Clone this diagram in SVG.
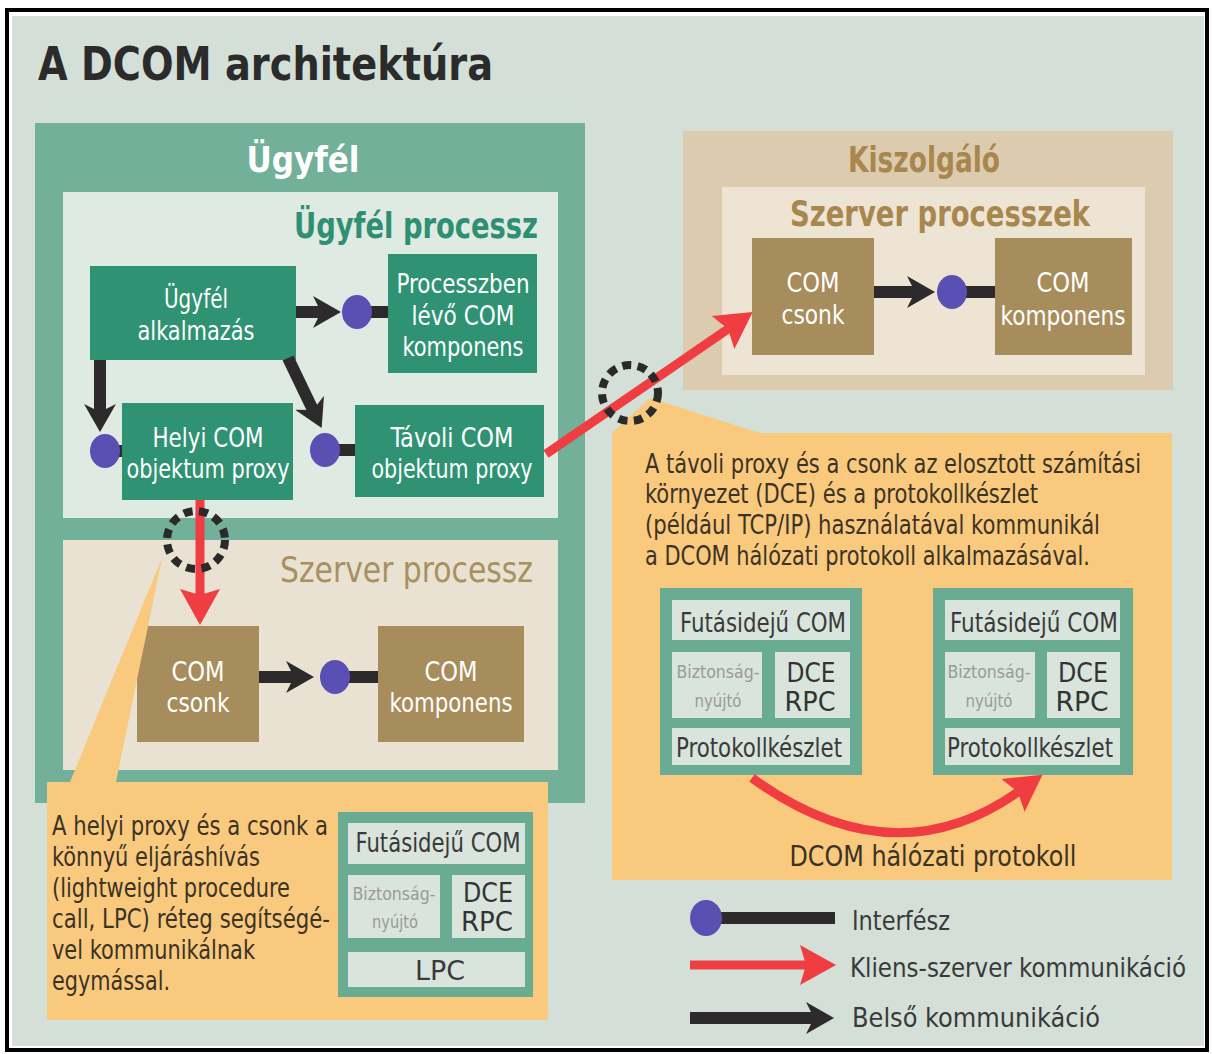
<svg xmlns="http://www.w3.org/2000/svg" width="1212" height="1054" viewBox="0 0 1212 1054">
<defs>
<style>
text{font-family:"Liberation Sans Narrow","DejaVu Sans Condensed","Liberation Sans",Arial,sans-serif}
.title{font-size:46px;font-weight:bold;fill:#2b2b2b}
.hdw{font-size:36px;font-weight:bold;fill:#ffffff;text-anchor:middle}
.hdt{font-size:36px;font-weight:bold;fill:#2e8f72}
.hdk{font-size:36px;font-weight:bold;fill:#a8874f;text-anchor:middle}
.hds{font-size:36px;fill:#a8905f}
.nt{font-size:27px;fill:#ffffff;text-anchor:middle}
.ct{font-size:26px;fill:#3b3324}
.st{font-size:26px;fill:#3a3a3a;text-anchor:middle}
.sb{font-size:18px;fill:#9a9a9a;text-anchor:middle}
.sd{font-size:26px;fill:#333333;text-anchor:middle}
.lg{font-size:27px;fill:#3a3a3a}
.tealnode{fill:#2f9373}
.tannode{fill:#a88d5c}
.stack{fill:#6aab93}
.cell{fill:#d8e4dc}
.orange{fill:#f9c97e}
.dk{stroke:#2d2a2b;stroke-width:12;fill:none}
.rd{stroke:#ef3d42;stroke-width:9;fill:none}
.itf{fill:#5a4fb3}
.dash{fill:none;stroke:#2a2a2a;stroke-width:8;stroke-dasharray:9 6.5}
</style>
<marker id="ahd" markerUnits="userSpaceOnUse" viewBox="0 0 28 32" refX="8" refY="16" markerWidth="28" markerHeight="32" orient="auto">
<path d="M0,0 L28,16 L0,32 L8,16 Z" fill="#2d2a2b"/>
</marker>
<marker id="ahr" markerUnits="userSpaceOnUse" viewBox="0 0 36 40" refX="6" refY="20" markerWidth="36" markerHeight="40" orient="auto">
<path d="M0,0 L36,20 L0,40 L6,20 Z" fill="#ef3d42"/>
</marker>
</defs>

<rect x="0" y="0" width="1212" height="1054" fill="#ffffff"/>
<rect x="12" y="16" width="1192" height="1030" fill="#d4e0d7"/>
<rect x="7" y="10" width="1200" height="1040" fill="none" stroke="#000" stroke-width="4"/>

<text class="title" x="38" y="80" textLength="455" lengthAdjust="spacingAndGlyphs">A DCOM architektúra</text>

<g id="client">
<rect x="35" y="123" width="550" height="680" fill="#73b09a"/>
<text class="hdw" x="303" y="172" textLength="113" lengthAdjust="spacingAndGlyphs">Ügyfél</text>
</g>

<g id="client-process">
<rect x="63" y="192" width="495" height="326" fill="#dfeae2"/>
<text class="hdt" x="294" y="238" textLength="244" lengthAdjust="spacingAndGlyphs">Ügyfél processz</text>
</g>

<g id="local-server-process">
<rect x="63" y="540" width="495" height="230" fill="#e9e2d3"/>
<text class="hds" x="280" y="582" textLength="253" lengthAdjust="spacingAndGlyphs">Szerver processz</text>
</g>

<g id="client-app">
<rect class="tealnode" x="90" y="266" width="206" height="94"/>
<text class="nt" x="196" y="308" textLength="64" lengthAdjust="spacingAndGlyphs">Ügyfél</text>
<text class="nt" x="196" y="340" textLength="117" lengthAdjust="spacingAndGlyphs">alkalmazás</text>
</g>

<g id="inproc-component">
<rect class="tealnode" x="388" y="254" width="149" height="119"/>
<text class="nt" x="463" y="293" textLength="133" lengthAdjust="spacingAndGlyphs">Processzben</text>
<text class="nt" x="463" y="325" textLength="103" lengthAdjust="spacingAndGlyphs">lévő COM</text>
<text class="nt" x="463" y="356" textLength="121" lengthAdjust="spacingAndGlyphs">komponens</text>
</g>

<g id="local-proxy">
<rect class="tealnode" x="122" y="403" width="171" height="97"/>
<text class="nt" x="208" y="447" textLength="111" lengthAdjust="spacingAndGlyphs">Helyi COM</text>
<text class="nt" x="208" y="478" textLength="163" lengthAdjust="spacingAndGlyphs">objektum proxy</text>
</g>

<g id="remote-proxy">
<rect class="tealnode" x="355" y="405" width="189" height="92"/>
<text class="nt" x="452" y="447" textLength="123" lengthAdjust="spacingAndGlyphs">Távoli COM</text>
<text class="nt" x="452" y="478" textLength="161" lengthAdjust="spacingAndGlyphs">objektum proxy</text>
</g>

<g id="local-stub">
<rect class="tannode" x="137" y="626" width="122" height="116"/>
<text class="nt" x="198" y="681" textLength="53" lengthAdjust="spacingAndGlyphs">COM</text>
<text class="nt" x="198" y="712" textLength="63" lengthAdjust="spacingAndGlyphs">csonk</text>
</g>

<g id="local-component">
<rect class="tannode" x="378" y="626" width="146" height="116"/>
<text class="nt" x="451" y="681" textLength="53" lengthAdjust="spacingAndGlyphs">COM</text>
<text class="nt" x="451" y="712" textLength="123" lengthAdjust="spacingAndGlyphs">komponens</text>
</g>

<g id="server">
<rect x="683" y="131" width="490" height="259" fill="#dccbae"/>
<text class="hdk" x="924" y="172" textLength="152" lengthAdjust="spacingAndGlyphs">Kiszolgáló</text>
</g>

<g id="server-processes">
<rect x="722" y="187" width="423" height="188" fill="#ede4d3"/>
<text class="hdk" x="940" y="226" textLength="300" lengthAdjust="spacingAndGlyphs">Szerver processzek</text>
</g>

<g id="remote-stub">
<rect class="tannode" x="752" y="238" width="122" height="117"/>
<text class="nt" x="813" y="292" textLength="53" lengthAdjust="spacingAndGlyphs">COM</text>
<text class="nt" x="813" y="324" textLength="63" lengthAdjust="spacingAndGlyphs">csonk</text>
</g>

<g id="remote-component">
<rect class="tannode" x="995" y="238" width="137" height="117"/>
<text class="nt" x="1063" y="292" textLength="53" lengthAdjust="spacingAndGlyphs">COM</text>
<text class="nt" x="1063" y="325" textLength="125" lengthAdjust="spacingAndGlyphs">komponens</text>
</g>

<g id="local-note">
<polygon class="orange" points="162,558 70,782 116,782"/>
<rect class="orange" x="47" y="782" width="501" height="238"/>
<text class="ct" x="52" y="835" textLength="276" lengthAdjust="spacingAndGlyphs">A helyi proxy és a csonk a</text>
<text class="ct" x="52" y="866" textLength="208" lengthAdjust="spacingAndGlyphs">könnyű eljáráshívás</text>
<text class="ct" x="52" y="897" textLength="238" lengthAdjust="spacingAndGlyphs">(lightweight procedure</text>
<text class="ct" x="52" y="928" textLength="278" lengthAdjust="spacingAndGlyphs">call, LPC) réteg segítségé-</text>
<text class="ct" x="52" y="959" textLength="203" lengthAdjust="spacingAndGlyphs">vel kommunikálnak</text>
<text class="ct" x="52" y="990" textLength="118" lengthAdjust="spacingAndGlyphs">egymással.</text>
</g>

<g id="local-stack">
<rect class="stack" x="338" y="812" width="195" height="185"/>
<rect class="cell" x="348" y="823" width="177" height="41"/>
<text class="st" x="438" y="852" textLength="165" lengthAdjust="spacingAndGlyphs">Futásidejű COM</text>
<rect class="cell" x="348" y="875" width="92" height="63"/>
<text class="sb" x="394" y="900" textLength="83" lengthAdjust="spacingAndGlyphs">Biztonság-</text>
<text class="sb" x="395" y="928" textLength="46" lengthAdjust="spacingAndGlyphs">nyújtó</text>
<rect class="cell" x="452" y="875" width="73" height="63"/>
<text class="sd" x="488" y="902" textLength="50" lengthAdjust="spacingAndGlyphs">DCE</text>
<text class="sd" x="487" y="931" textLength="52" lengthAdjust="spacingAndGlyphs">RPC</text>
<rect class="cell" x="348" y="952" width="177" height="35"/>
<text class="st" x="440" y="980" textLength="50" lengthAdjust="spacingAndGlyphs">LPC</text>
</g>

<g id="remote-note">
<polygon class="orange" points="650,398 612,433 760,433"/>
<rect class="orange" x="612" y="433" width="560" height="447"/>
<text class="ct" x="645" y="473" textLength="496" lengthAdjust="spacingAndGlyphs">A távoli proxy és a csonk az elosztott számítási</text>
<text class="ct" x="645" y="503" textLength="393" lengthAdjust="spacingAndGlyphs">környezet (DCE) és a protokollkészlet</text>
<text class="ct" x="645" y="534" textLength="455" lengthAdjust="spacingAndGlyphs">(például TCP/IP) használatával kommunikál</text>
<text class="ct" x="645" y="565" textLength="445" lengthAdjust="spacingAndGlyphs">a DCOM hálózati protokoll alkalmazásával.</text>
<text class="ct" x="933" y="866" text-anchor="middle" style="font-size:28px" textLength="287" lengthAdjust="spacingAndGlyphs">DCOM hálózati protokoll</text>
</g>

<g id="client-stack">
<rect class="stack" x="660" y="588" width="202" height="187"/>
<rect class="cell" x="672" y="600" width="178" height="40"/>
<text class="st" x="763" y="632" textLength="166" lengthAdjust="spacingAndGlyphs">Futásidejű COM</text>
<rect class="cell" x="672" y="652" width="90" height="66"/>
<text class="sb" x="718" y="678" textLength="83" lengthAdjust="spacingAndGlyphs">Biztonság-</text>
<text class="sb" x="718" y="707" textLength="47" lengthAdjust="spacingAndGlyphs">nyújtó</text>
<rect class="cell" x="775" y="652" width="75" height="66"/>
<text class="sd" x="811" y="682" textLength="49" lengthAdjust="spacingAndGlyphs">DCE</text>
<text class="sd" x="810" y="711" textLength="51" lengthAdjust="spacingAndGlyphs">RPC</text>
<rect class="cell" x="672" y="728" width="178" height="37"/>
<text class="st" x="759" y="757" textLength="166" lengthAdjust="spacingAndGlyphs">Protokollkészlet</text>
</g>

<g id="server-stack">
<rect class="stack" x="933" y="588" width="200" height="187"/>
<rect class="cell" x="945" y="600" width="175" height="40"/>
<text class="st" x="1034" y="632" textLength="168" lengthAdjust="spacingAndGlyphs">Futásidejű COM</text>
<rect class="cell" x="945" y="652" width="90" height="66"/>
<text class="sb" x="989" y="678" textLength="83" lengthAdjust="spacingAndGlyphs">Biztonság-</text>
<text class="sb" x="989" y="707" textLength="47" lengthAdjust="spacingAndGlyphs">nyújtó</text>
<rect class="cell" x="1047" y="652" width="73" height="66"/>
<text class="sd" x="1083" y="682" textLength="50" lengthAdjust="spacingAndGlyphs">DCE</text>
<text class="sd" x="1082" y="711" textLength="53" lengthAdjust="spacingAndGlyphs">RPC</text>
<rect class="cell" x="945" y="728" width="175" height="37"/>
<text class="st" x="1030" y="757" textLength="166" lengthAdjust="spacingAndGlyphs">Protokollkészlet</text>
</g>

<g id="connectors">
<line class="dk" x1="357" y1="312" x2="388" y2="312"/>
<ellipse class="itf" cx="357" cy="312" rx="15" ry="17"/>
<line class="dk" x1="105" y1="451" x2="122" y2="451"/>
<ellipse class="itf" cx="105" cy="451" rx="15" ry="17"/>
<line class="dk" x1="325" y1="450" x2="355" y2="450"/>
<ellipse class="itf" cx="325" cy="450" rx="15" ry="17"/>
<line class="dk" x1="335" y1="677" x2="378" y2="677"/>
<ellipse class="itf" cx="335" cy="677" rx="15" ry="17"/>
<line class="dk" x1="952" y1="292" x2="995" y2="292"/>
<ellipse class="itf" cx="952" cy="292" rx="15" ry="17"/>
<line class="dk" x1="296" y1="312" x2="321" y2="312" marker-end="url(#ahd)"/>
<line class="dk" x1="100" y1="360" x2="100" y2="412" marker-end="url(#ahd)"/>
<line class="dk" x1="288" y1="358" x2="313" y2="410" marker-end="url(#ahd)"/>
<line class="dk" x1="259" y1="677" x2="294" y2="677" marker-end="url(#ahd)"/>
<line class="dk" x1="874" y1="292" x2="915" y2="292" marker-end="url(#ahd)"/>
<line class="rd" x1="200" y1="500" x2="200" y2="595" marker-end="url(#ahr)"/>
<line class="rd" x1="546" y1="454" x2="728" y2="329" marker-end="url(#ahr)"/>
<path class="rd" d="M752,778 Q893,880 1018,792" stroke-width="10" marker-end="url(#ahr)"/>
<circle class="dash" cx="196" cy="540" r="29"/>
<circle class="dash" cx="630" cy="393" r="28"/>
</g>

<g id="legend">
<line class="dk" x1="706" y1="918" x2="835" y2="918"/>
<ellipse class="itf" cx="706" cy="918" rx="16" ry="18"/>
<text class="lg" x="852" y="930" textLength="98" lengthAdjust="spacingAndGlyphs">Interfész</text>
<line class="rd" x1="690" y1="965" x2="806" y2="965" stroke-width="12" marker-end="url(#ahr)"/>
<text class="lg" x="850" y="977" textLength="336" lengthAdjust="spacingAndGlyphs">Kliens-szerver kommunikáció</text>
<line class="dk" x1="690" y1="1018" x2="814" y2="1018" marker-end="url(#ahd)"/>
<text class="lg" x="852" y="1027" textLength="248" lengthAdjust="spacingAndGlyphs">Belső kommunikáció</text>
</g>
</svg>
